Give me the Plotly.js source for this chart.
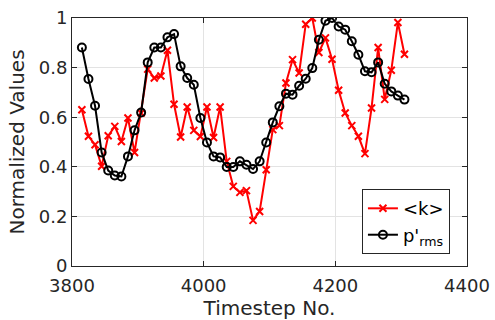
<!DOCTYPE html>
<html>
<head>
<meta charset="utf-8">
<script src="https://cdn.plot.ly/plotly-3.0.1.min.js"></script>
<style>html,body{margin:0;padding:0;background:#fff;}#plot{width:495px;height:320px;}</style>
</head>
<body>
<div id="plot"></div>
<script>
// Timesteps (every 10 from 3815 to 4305)
var timesteps = [];
for (var t = 3815; t <= 4305; t += 10) timesteps.push(t);

// <k> normalized values
var kValues = [0.630, 0.523, 0.489, 0.402, 0.525, 0.563, 0.502, 0.597, 0.458, 0.617,
               0.794, 0.758, 0.766, 0.870, 0.652, 0.520, 0.641, 0.547, 0.522, 0.641,
               0.518, 0.641, 0.422, 0.321, 0.297, 0.304, 0.184, 0.220, 0.388, 0.550,
               0.566, 0.738, 0.832, 0.778, 0.975, 1.000, 0.861, 0.920, 0.834, 0.709,
               0.617, 0.566, 0.523, 0.453, 0.637, 0.881, 0.672, 0.789, 0.982, 0.854];

// p'_rms normalized values
var pValues = [0.881, 0.754, 0.646, 0.458, 0.385, 0.365, 0.361, 0.442, 0.547, 0.619,
               0.821, 0.881, 0.881, 0.922, 0.935, 0.805, 0.758, 0.731, 0.597, 0.498,
               0.442, 0.438, 0.399, 0.399, 0.422, 0.408, 0.391, 0.422, 0.498, 0.579,
               0.644, 0.695, 0.691, 0.727, 0.755, 0.798, 0.912, 0.989, 1.000, 0.966,
               0.953, 0.906, 0.852, 0.785, 0.781, 0.821, 0.735, 0.704, 0.687, 0.671];

var xTicks = [3800, 4000, 4200, 4400];
var yTicks = [0, 0.2, 0.4, 0.6, 0.8, 1];

var font = 'DejaVu Sans, sans-serif';
var axisColor = '#262626';

var traces = [
  {
    x: timesteps, y: kValues, name: '&lt;k&gt;', type: 'scatter', mode: 'lines+markers',
    line: {color: '#ff0000', width: 2},
    marker: {symbol: 'x-thin-open', size: 7, color: '#ff0000', line: {color: '#ff0000', width: 2}}
  },
  {
    x: timesteps, y: pValues, name: "p'<sub>rms</sub>", type: 'scatter', mode: 'lines+markers',
    line: {color: '#000000', width: 2},
    marker: {symbol: 'circle-open', size: 8, color: '#000000', line: {color: '#000000', width: 2}}
  }
];

var layout = {
  width: 495, height: 320,
  margin: {l: 72, r: 28, t: 18, b: 54},
  paper_bgcolor: '#ffffff', plot_bgcolor: '#ffffff',
  font: {family: font, size: 18, color: axisColor},
  showlegend: true,
  legend: {
    x: 0.734, y: 0.31, xanchor: 'left', yanchor: 'top',
    bgcolor: '#ffffff', bordercolor: axisColor, borderwidth: 1,
    font: {family: font, size: 18, color: '#000000'},
    tracegroupgap: 0, itemwidth: 30
  },
  xaxis: {
    range: [3800, 4400], tickvals: xTicks, ticktext: xTicks.map(String),
    showline: true, linecolor: axisColor, linewidth: 1, mirror: 'ticks',
    ticks: 'inside', ticklen: 5, tickcolor: axisColor, ticklabelstandoff: 3,
    showgrid: true, gridcolor: '#e3e3e3', gridwidth: 1, zeroline: false,
    tickfont: {family: font, size: 18, color: axisColor},
    title: {text: 'Timestep No.', font: {family: font, size: 20, color: axisColor}, standoff: 8}
  },
  yaxis: {
    range: [0, 1], tickvals: yTicks, ticktext: yTicks.map(String),
    showline: true, linecolor: axisColor, linewidth: 1, mirror: 'ticks',
    ticks: 'inside', ticklen: 5, tickcolor: axisColor,
    showgrid: true, gridcolor: '#e3e3e3', gridwidth: 1, zeroline: false,
    tickfont: {family: font, size: 18, color: axisColor},
    title: {text: 'Normalized Values', font: {family: font, size: 20, color: axisColor}, standoff: 8}
  }
};

Plotly.newPlot('plot', traces, layout, {displayModeBar: false, staticPlot: true});
</script>
</body>
</html>
